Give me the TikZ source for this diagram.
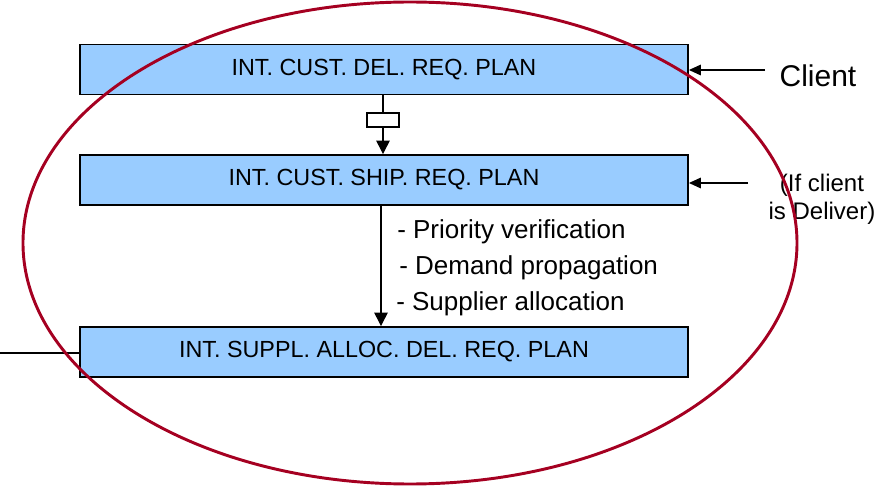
\documentclass[tikz,border=0pt]{standalone}
\usepackage{fontspec}
\setmainfont{Liberation Sans}
\usetikzlibrary{arrows.meta,positioning}
\definecolor{planblue}{RGB}{153,204,255}
\definecolor{ringred}{RGB}{165,0,33}
\tikzset{
  planbox/.style={draw, line width=1.4pt, fill=planblue, minimum width=456pt, minimum height=37.5pt, inner sep=0pt, font=\fontsize{17.5}{20}\selectfont},
  flow/.style={line width=0.9pt, -{Triangle[width=10pt,length=10pt]}},
  feed/.style={line width=0.9pt, -{Triangle[width=8pt,length=9pt]}},
  steptext/.style={anchor=west, inner sep=0pt, font=\fontsize{19.5}{22}\selectfont}
}
\begin{document}
\begin{tikzpicture}[x=0.75pt,y=0.75pt,yscale=-1,xscale=1]
    \path[use as bounding box] (0,0) rectangle (882,488);

    % Plans
    \node[planbox] (delreq) at (384,69.5) {INT. CUST. DEL. REQ. PLAN};
    \node[planbox] (shipreq) at (384,180) {INT. CUST. SHIP. REQ. PLAN};
    \node[planbox] (alloc) at (384,352) {INT. SUPPL. ALLOC. DEL. REQ. PLAN};

    % Flows between plans
    \draw[flow] (delreq.south -| 383,0) -- (shipreq.north -| 383,0);
    \node[draw, line width=0.9pt, fill=white, minimum width=24pt, minimum height=10.5pt, inner sep=0pt] (gate) at (383,120) {};
    \draw[flow] (shipreq.south -| 381,0) -- (alloc.north -| 381,0);

    \node[steptext] (prio) at (397,232) {- Priority verification};
    \node[steptext] (demand) at (399,268) {- Demand propagation};
    \node[steptext] (supp) at (396,304) {- Supplier allocation};

    % Client inputs
    \node[inner sep=0pt, font=\fontsize{22.5}{26}\selectfont] (client) at (818,76) {Client};
    \coordinate (clientin) at (765,70);
    \draw[feed] (clientin) -- (delreq.east |- clientin);
    \node[inner sep=0pt, align=center, font=\fontsize{18}{21}\selectfont] (deliver) at (822,199) {(If client\\is Deliver)};
    \coordinate (deliverin) at (748,183);
    \draw[feed] (deliverin) -- (shipreq.east |- deliverin);

    % Supplier side
    \coordinate (suppout) at (0,353);
    \draw[line width=0.9pt] (suppout) -- (alloc.west |- suppout);

    % Scope
    \draw[ringred, line width=2.2pt] (410,243) ellipse [x radius=387, y radius=241];
\end{tikzpicture}
\end{document}
